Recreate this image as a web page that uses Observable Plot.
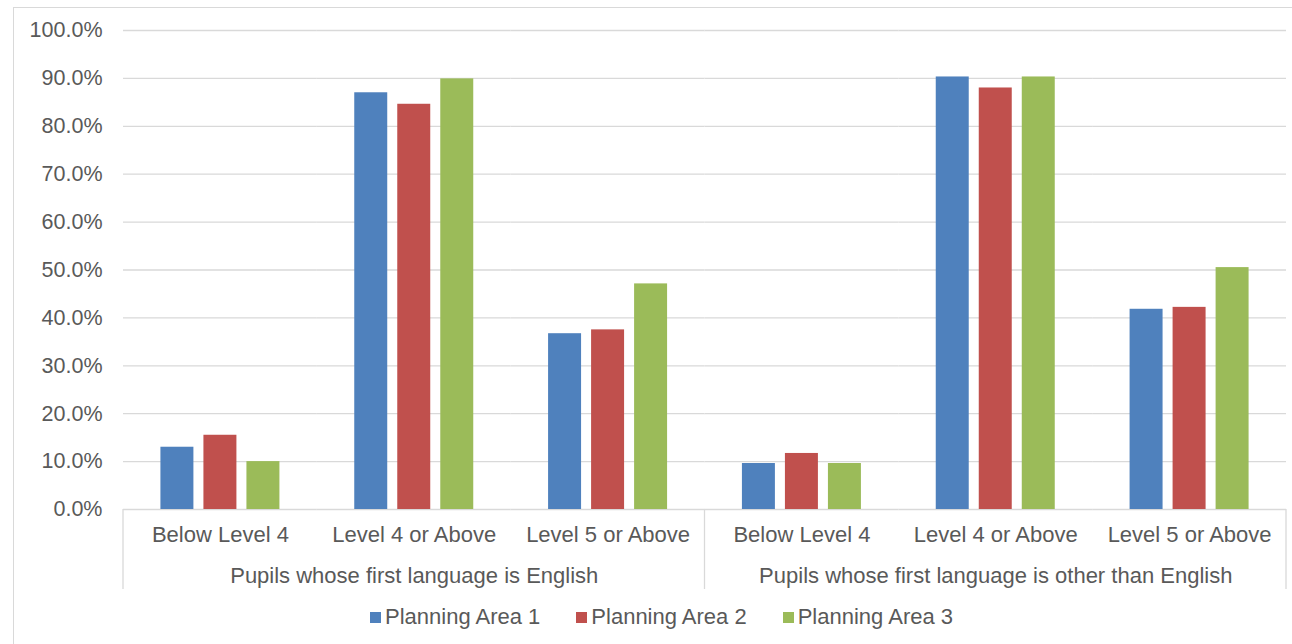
<!DOCTYPE html>
<html>
<head>
<meta charset="utf-8">
<script src="https://cdn.jsdelivr.net/npm/d3@7"></script>
<script src="https://cdn.jsdelivr.net/npm/@observablehq/plot@0.6"></script>
<style>
  html, body { margin: 0; padding: 0; background: #fff; width: 1292px; height: 644px; overflow: hidden; }
  body { position: relative; font-family: "Liberation Sans", Arial, sans-serif; color: #595959; }
  #frame { position: absolute; left: 13px; top: 7px; width: 1300px; height: 700px; border: 1.5px solid #d9d9d9; box-sizing: border-box; }
  #chart { position: absolute; left: 0; top: 0; }
  #legend { position: absolute; left: 370px; top: 605px; display: flex; gap: 36px; font-size: 22px; line-height: 24px; white-space: nowrap; }
  .item { display: flex; align-items: center; gap: 4px; }
  .sw { width: 11px; height: 11px; display: inline-block; }
</style>
</head>
<body>
<div id="frame"></div>
<div id="chart"></div>
<div id="legend"></div>
<script>
const groups = ["Pupils whose first language is English", "Pupils whose first language is other than English"];
const levels = ["Below Level 4", "Level 4 or Above", "Level 5 or Above"];
const series = ["Planning Area 1", "Planning Area 2", "Planning Area 3"];
const colors = ["#4F81BD", "#C0504D", "#9BBB59"];
// values per (group, level), in order: English x3 levels, Other x3 levels
const pa1 = [13.0, 87.0, 36.7, 9.6, 90.3, 41.8];
const pa2 = [15.5, 84.6, 37.5, 11.7, 88.0, 42.2];
const pa3 = [10.0, 89.9, 47.1, 9.6, 90.3, 50.5];
const yTicks = [0, 10, 20, 30, 40, 50, 60, 70, 80, 90, 100];

const keys = [];
groups.forEach((g, gi) => levels.forEach(l => keys.push(gi + "|" + l)));
const seriesValues = [pa1, pa2, pa3];
const data = [];
keys.forEach((k, ki) => series.forEach((s, si) => data.push({key: k, series: s, value: seriesValues[si][ki]})));
const levelRows = keys.map(k => ({key: k, level: k.split("|")[1]}));
const groupRows = groups.map((g, gi) => ({key: gi + "|" + levels[1], group: g}));

const plot = Plot.plot({
  width: 1292,
  height: 600,
  marginLeft: 123,
  marginRight: 6,
  marginTop: 30,
  marginBottom: 91,
  style: {fontFamily: "'Liberation Sans', Arial, sans-serif", fontSize: "21.5px", color: "#595959", background: "transparent"},
  fx: {domain: keys, padding: 0, round: false, axis: null},
  x: {domain: series, paddingInner: 0.233, paddingOuter: 0.87, round: false, axis: null},
  y: {domain: [0, 100], ticks: yTicks, tickFormat: d => d.toFixed(1) + "%", tickSize: 0, tickPadding: 21, label: null},
  color: {domain: series, range: colors},
  marks: [
    Plot.ruleY(yTicks, {stroke: "#d9d9d9", strokeWidth: 1.3}),
    Plot.barY(data, {fx: "key", x: "series", y: "value", fill: "series"}),
    Plot.text(levelRows, {fx: "key", text: "level", frameAnchor: "bottom", dy: 32, fontSize: 22, fill: "#595959"}),
    Plot.text(groupRows, {fx: "key", text: "group", frameAnchor: "bottom", dy: 73, fontSize: 22, fill: "#595959"})
  ]
});
document.getElementById("chart").appendChild(plot);

// group separator lines, positioned through the fx scale
const fx = plot.scale("fx");
const y = plot.scale("y");
const svg = d3.select(plot);
const y0 = y.apply(0);
const sepX = [fx.apply(keys[0]), fx.apply(keys[3]), fx.apply(keys[5]) + fx.bandwidth];
svg.append("g").selectAll("line").data(sepX).join("line")
  .attr("x1", d => d).attr("x2", d => d)
  .attr("y1", y0).attr("y2", y0 + 80)
  .attr("stroke", "#d9d9d9").attr("stroke-width", 1.3);

const legend = document.getElementById("legend");
series.forEach((s, i) => {
  const it = document.createElement("div");
  it.className = "item";
  it.innerHTML = `<span class="sw" style="background:${colors[i]}"></span><span>${s}</span>`;
  legend.appendChild(it);
});
</script>
</body>
</html>
